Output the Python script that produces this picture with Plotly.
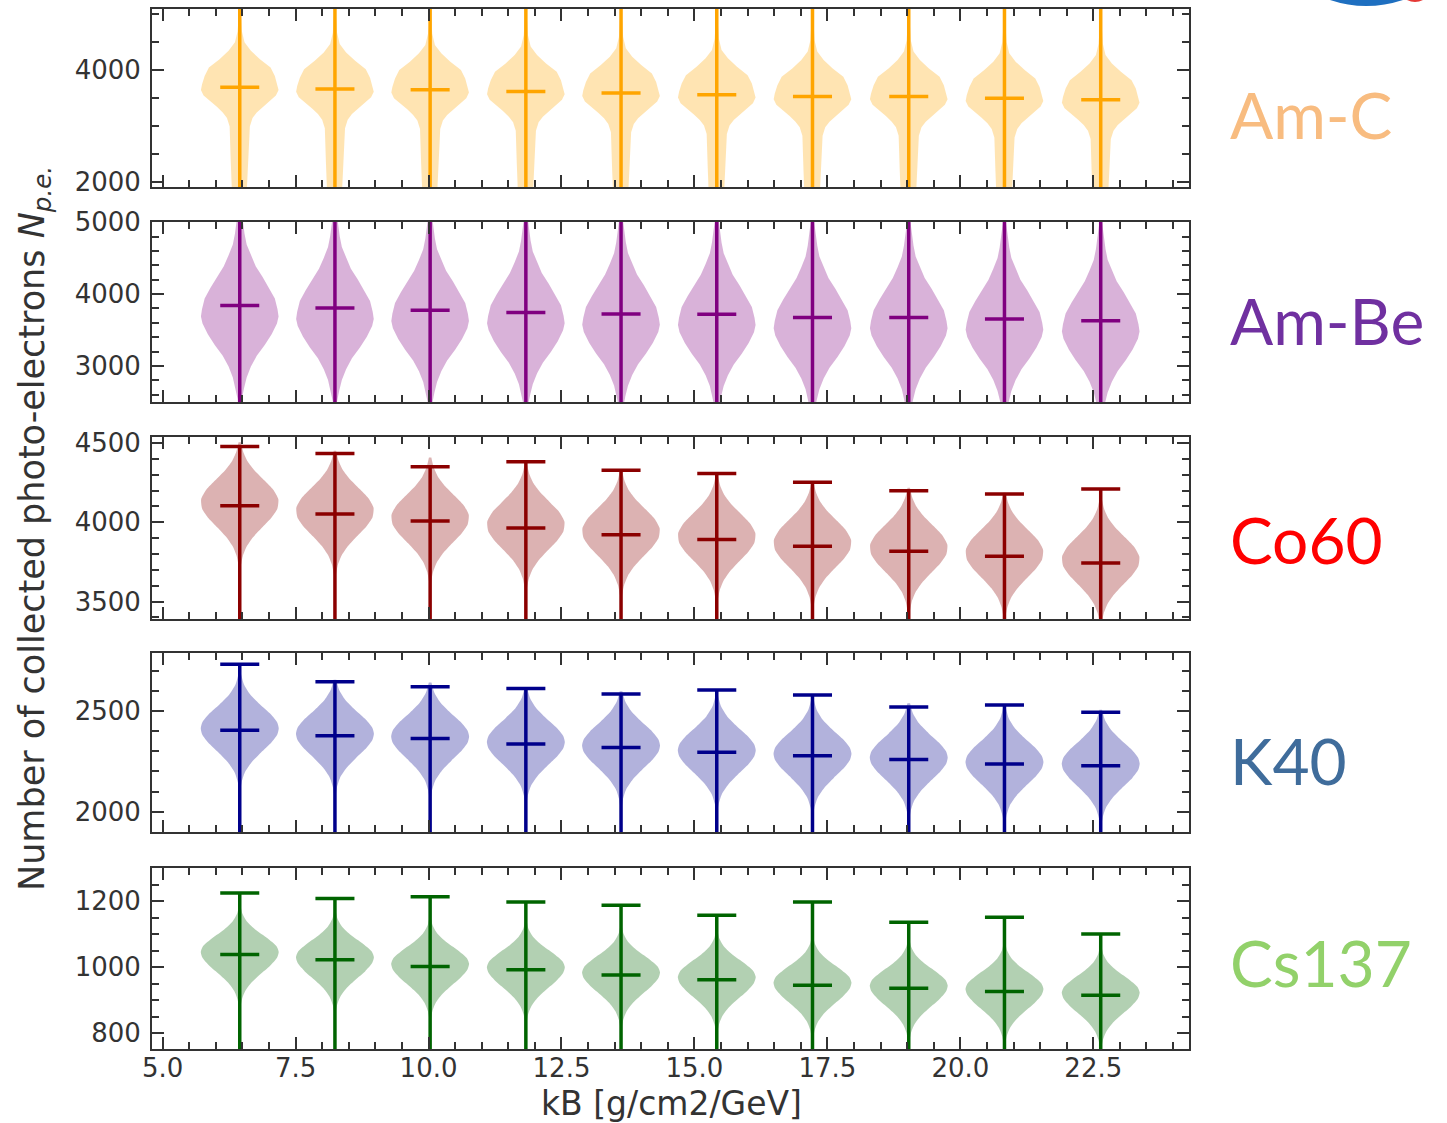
import plotly.graph_objects as go
from plotly.subplots import make_subplots

# ---------------- data ----------------
kB = [6.45, 8.24, 10.03, 11.83, 13.62, 15.42, 17.22, 19.03, 20.83, 22.64]

amc_mean = [3690, 3660, 3645, 3615, 3585, 3555, 3525, 3525, 3495, 3465]
amc_max = [5700, 5650, 5700, 5600, 5650, 5600, 5550, 5600, 5500, 5550]
amc_min = [1400, 1350, 1400, 1300, 1350, 1300, 1250, 1300, 1250, 1200]

ambe_mean = [3840, 3805, 3775, 3745, 3722, 3720, 3675, 3675, 3652, 3630]
ambe_max = [5400, 5350, 5400, 5300, 5350, 5300, 5250, 5300, 5250, 5200]
ambe_min = [2300, 2250, 2300, 2200, 2250, 2200, 2150, 2200, 2150, 2100]

co60_mean = [4105, 4052, 4008, 3964, 3922, 3891, 3849, 3818, 3786, 3744]
co60_max = [4478, 4434, 4350, 4382, 4329, 4308, 4252, 4199, 4178, 4210]
co60_min = [3300, 3280, 3250, 3260, 3240, 3230, 3200, 3190, 3180, 3150]

k40_mean = [2405, 2378, 2364, 2337, 2320, 2296, 2278, 2260, 2237, 2228]
k40_max = [2735, 2648, 2623, 2614, 2586, 2607, 2582, 2522, 2532, 2496]
k40_min = [1850, 1840, 1830, 1820, 1820, 1810, 1800, 1790, 1780, 1770]

cs_mean = [1038, 1022, 1002, 992, 976, 962, 945, 936, 926, 915]
cs_max = [1224, 1208, 1213, 1197, 1187, 1157, 1197, 1136, 1151, 1100]
cs_min = [720, 715, 710, 705, 700, 700, 695, 690, 690, 685]

# violin outline profiles (value offset from mean, half width in kB units)
amc_off = [1300, 1000, 800, 650, 500, 350, 200, 50, -50, -150, -250, -350, -450, -550, -700, -900, -1300, -1800, -2300]
amc_hw = [0.02, 0.04, 0.09, 0.21, 0.38, 0.58, 0.66, 0.71, 0.73, 0.68, 0.56, 0.43, 0.32, 0.24, 0.19, 0.18, 0.17, 0.15, 0.11]

ambe_off = [1400, 1150, 1000, 850, 700, 550, 400, 250, 100, -50, -150, -250, -400, -550, -700, -850, -1000, -1150, -1300, -1500]
ambe_hw = [0.02, 0.06, 0.09, 0.13, 0.21, 0.30, 0.43, 0.55, 0.66, 0.71, 0.73, 0.70, 0.60, 0.47, 0.32, 0.21, 0.13, 0.08, 0.04, 0.02]

co60_off = [400, 340, 280, 220, 160, 100, 40, -20, -80, -140, -200, -260, -320, -380, -440]
co60_hw = [0.023, 0.065, 0.147, 0.283, 0.46, 0.63, 0.726, 0.707, 0.587, 0.415, 0.25, 0.128, 0.056, 0.021, 0.007]

k40_off = [280, 230, 180, 130, 80, 40, 10, -20, -60, -110, -160, -210, -260, -310, -360]
k40_hw = [0.025, 0.078, 0.193, 0.377, 0.584, 0.703, 0.733, 0.706, 0.595, 0.40, 0.22, 0.095, 0.035, 0.011, 0.003]

cs_off = [150, 125, 100, 75, 50, 25, 8, -10, -35, -60, -85, -110, -135, -160, -185]
cs_hw = [0.013, 0.047, 0.135, 0.298, 0.515, 0.692, 0.733, 0.70, 0.567, 0.386, 0.221, 0.106, 0.043, 0.015, 0.004]

names = ["Am-C", "Am-Be", "Co60", "K40", "Cs137"]

# ---------------- styles ----------------
W, H = 1447, 1123
INK = "#333333"
BAR = 0.367

panels = [
    dict(mean=amc_mean, vmax=amc_max, vmin=amc_min, off=amc_off, hw=amc_hw,
         line="#FFA500", fill="rgba(255,165,0,0.3)", shape="linear",
         rng=[1910, 5085], dtick=2000, minor=500, label="#F8BC80", ly=114),
    dict(mean=ambe_mean, vmax=ambe_max, vmin=ambe_min, off=ambe_off, hw=ambe_hw,
         line="#800080", fill="rgba(128,0,128,0.3)", shape="linear",
         rng=[2497, 5005], dtick=1000, minor=200, label="#7030A0", ly=320),
    dict(mean=co60_mean, vmax=co60_max, vmin=co60_min, off=co60_off, hw=co60_hw,
         line="#8B0000", fill="rgba(139,0,0,0.3)", shape="spline",
         rng=[3390, 4538], dtick=500, minor=100, label="#FF0000", ly=540),
    dict(mean=k40_mean, vmax=k40_max, vmin=k40_min, off=k40_off, hw=k40_hw,
         line="#00008B", fill="rgba(0,0,139,0.3)", shape="spline",
         rng=[1898, 2791], dtick=500, minor=100, label="#3F6C9B", ly=760),
    dict(mean=cs_mean, vmax=cs_max, vmin=cs_min, off=cs_off, hw=cs_hw,
         line="#006400", fill="rgba(0,100,0,0.3)", shape="spline",
         rng=[752, 1300], dtick=200, minor=50, label="#92D16A", ly=962),
]
frames = [(9, 187), (222, 402), (437, 619), (653, 832), (868, 1049)]
x_dom = [152 / W, 1189 / W]

fig = make_subplots(rows=5, cols=1, shared_xaxes=True, vertical_spacing=0.02)

for r, p in enumerate(panels, start=1):
    # violin bodies
    for c, m in zip(kB, p["mean"]):
        xs = [c + h for h in p["hw"]] + [c - h for h in reversed(p["hw"])]
        ys = [m + o for o in p["off"]] + [m + o for o in reversed(p["off"])]
        fig.add_trace(go.Scatter(x=xs, y=ys, mode="lines", fill="toself",
                                 fillcolor=p["fill"],
                                 line=dict(width=0, color=p["fill"], shape=p["shape"], smoothing=0.6),
                                 hoverinfo="skip", showlegend=False), row=r, col=1)
    # extrema lines, caps, means
    lx, ly = [], []
    for c, m, hi, lo in zip(kB, p["mean"], p["vmax"], p["vmin"]):
        lx += [c, c, None, c - BAR, c + BAR, None, c - BAR, c + BAR, None, c - BAR, c + BAR, None]
        ly += [lo, hi, None, hi, hi, None, lo, lo, None, m, m, None]
    fig.add_trace(go.Scatter(x=lx, y=ly, mode="lines",
                             line=dict(color=p["line"], width=3.5),
                             hoverinfo="skip", showlegend=False), row=r, col=1)

tickfont = dict(family="DejaVu Sans", size=26, color=INK)
common = dict(showline=True, linecolor=INK, linewidth=2, mirror="ticks",
              ticks="inside", ticklen=12, tickwidth=2, tickcolor=INK,
              showgrid=False, zeroline=False, tickfont=tickfont, automargin=False)

for r, p in enumerate(panels, start=1):
    top, bot = frames[r - 1]
    ysfx = "" if r == 1 else str(r)
    fig.layout["yaxis" + ysfx].update(
        domain=[1 - bot / H, 1 - top / H], range=p["rng"], tick0=0, dtick=p["dtick"],
        minor=dict(dtick=p["minor"], tick0=0, ticks="inside", ticklen=7, tickwidth=1.5,
                   tickcolor=INK, showgrid=False),
        ticklabelstandoff=4, **common)
    fig.layout["xaxis" + ysfx].update(
        domain=x_dom, range=[4.80, 24.30], tick0=5, dtick=2.5, tickformat=".1f",
        minor=dict(dtick=0.5, tick0=5, ticks="inside", ticklen=7, tickwidth=1.5,
                   tickcolor=INK, showgrid=False),
        showticklabels=(r == 5), ticklabelstandoff=-5, **common)
    fig.add_annotation(text=names[r - 1], xref="paper", yref="paper",
                       x=1228 / W, y=1 - p["ly"] / H, xanchor="left", yanchor="middle",
                       showarrow=False, font=dict(family="Lato", size=64, color=p["label"]))

fig.add_annotation(text="Number of collected photo-electrons <i>N</i><sub><i>p.e.</i></sub>",
                   xref="paper", yref="paper", x=34 / W, y=1 - 529 / H,
                   xanchor="center", yanchor="middle", textangle=-90, showarrow=False,
                   font=dict(family="DejaVu Sans", size=35, color=INK))
fig.add_annotation(text="kB [g/cm2/GeV]", xref="paper", yref="paper",
                   x=671 / W, y=1 - 1103 / H, xanchor="center", yanchor="middle",
                   showarrow=False, font=dict(family="DejaVu Sans", size=33, color=INK))

# partial logo at the top right corner
fig.add_shape(type="path", xref="paper", yref="paper", line=dict(width=0),
              fillcolor="#1E6FC0", path=f"M {1330/W},1 Q {1366/W},{1-12/H} {1403/W},1 Z")
fig.add_shape(type="path", xref="paper", yref="paper", line=dict(width=0),
              fillcolor="#E53935", path=f"M {1407/W},1 Q {1415/W},{1-4/H} {1423/W},1 Z")

fig.update_layout(width=W, height=H, margin=dict(l=0, r=0, t=0, b=0, autoexpand=False),
                  paper_bgcolor="white", plot_bgcolor="white")

fig.write_html("out.html")
